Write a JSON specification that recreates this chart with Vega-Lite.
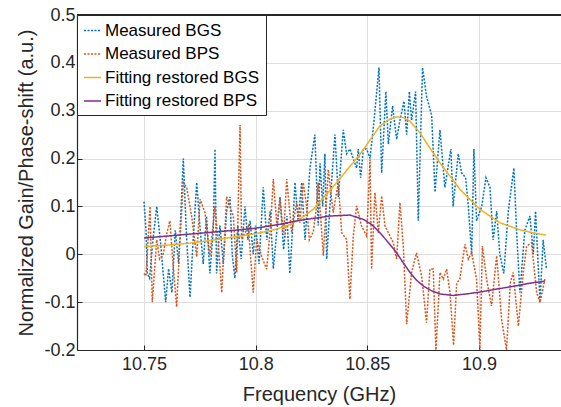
{
  "$schema": "https://vega.github.io/schema/vega-lite/v6.json",
  "width": 484,
  "height": 335,
  "autosize": {"type": "none"},
  "padding": {"left": 77, "top": 15, "right": 0, "bottom": 57},
  "background": "white",
  "config": {"view": {"stroke": null}, "font": "Liberation Sans"},
  "data": {"values": [
    {"s":"Measured BGS","f":10.7500,"v":0.11},{"s":"Measured BGS","f":10.7509,"v":0.05},{"s":"Measured BGS","f":10.7515,"v":-0.04},{"s":"Measured BGS","f":10.7525,"v":-0.05},{"s":"Measured BGS","f":10.7540,"v":0.03},{"s":"Measured BGS","f":10.7557,"v":0.10},{"s":"Measured BGS","f":10.7575,"v":0.02},{"s":"Measured BGS","f":10.7597,"v":-0.10},{"s":"Measured BGS","f":10.7610,"v":-0.03},{"s":"Measured BGS","f":10.7625,"v":-0.08},{"s":"Measured BGS","f":10.7640,"v":0.05},{"s":"Measured BGS","f":10.7655,"v":-0.02},{"s":"Measured BGS","f":10.7676,"v":0.20},{"s":"Measured BGS","f":10.7690,"v":0.04},{"s":"Measured BGS","f":10.7706,"v":-0.09},{"s":"Measured BGS","f":10.7720,"v":0.03},{"s":"Measured BGS","f":10.7736,"v":0.15},{"s":"Measured BGS","f":10.7750,"v":0.06},{"s":"Measured BGS","f":10.7765,"v":-0.02},{"s":"Measured BGS","f":10.7780,"v":0.08},{"s":"Measured BGS","f":10.7795,"v":-0.04},{"s":"Measured BGS","f":10.7810,"v":0.05},{"s":"Measured BGS","f":10.7818,"v":0.22},{"s":"Measured BGS","f":10.7825,"v":-0.04},{"s":"Measured BGS","f":10.7840,"v":0.06},{"s":"Measured BGS","f":10.7855,"v":-0.02},{"s":"Measured BGS","f":10.7870,"v":0.09},{"s":"Measured BGS","f":10.7885,"v":0.12},{"s":"Measured BGS","f":10.7895,"v":0.00},{"s":"Measured BGS","f":10.7907,"v":-0.05},{"s":"Measured BGS","f":10.7920,"v":0.06},{"s":"Measured BGS","f":10.7935,"v":-0.01},{"s":"Measured BGS","f":10.7952,"v":0.10},{"s":"Measured BGS","f":10.7965,"v":0.03},{"s":"Measured BGS","f":10.7975,"v":0.07},{"s":"Measured BGS","f":10.7989,"v":0.00},{"s":"Measured BGS","f":10.8000,"v":0.06},{"s":"Measured BGS","f":10.8015,"v":-0.02},{"s":"Measured BGS","f":10.8034,"v":0.14},{"s":"Measured BGS","f":10.8050,"v":0.03},{"s":"Measured BGS","f":10.8065,"v":0.09},{"s":"Measured BGS","f":10.8079,"v":-0.03},{"s":"Measured BGS","f":10.8095,"v":0.05},{"s":"Measured BGS","f":10.8109,"v":0.12},{"s":"Measured BGS","f":10.8125,"v":0.01},{"s":"Measured BGS","f":10.8140,"v":0.08},{"s":"Measured BGS","f":10.8153,"v":-0.04},{"s":"Measured BGS","f":10.8165,"v":0.05},{"s":"Measured BGS","f":10.8176,"v":0.15},{"s":"Measured BGS","f":10.8190,"v":0.07},{"s":"Measured BGS","f":10.8206,"v":0.15},{"s":"Measured BGS","f":10.8221,"v":0.03},{"s":"Measured BGS","f":10.8243,"v":0.18},{"s":"Measured BGS","f":10.8265,"v":0.25},{"s":"Measured BGS","f":10.8280,"v":0.06},{"s":"Measured BGS","f":10.8288,"v":0.19},{"s":"Measured BGS","f":10.8300,"v":0.10},{"s":"Measured BGS","f":10.8310,"v":0.21},{"s":"Measured BGS","f":10.8318,"v":-0.01},{"s":"Measured BGS","f":10.8335,"v":0.12},{"s":"Measured BGS","f":10.8355,"v":0.25},{"s":"Measured BGS","f":10.8370,"v":0.12},{"s":"Measured BGS","f":10.8392,"v":0.26},{"s":"Measured BGS","f":10.8407,"v":0.21},{"s":"Measured BGS","f":10.8422,"v":0.22},{"s":"Measured BGS","f":10.8437,"v":0.20},{"s":"Measured BGS","f":10.8452,"v":0.18},{"s":"Measured BGS","f":10.8459,"v":0.22},{"s":"Measured BGS","f":10.8470,"v":0.16},{"s":"Measured BGS","f":10.8482,"v":0.22},{"s":"Measured BGS","f":10.8497,"v":0.22},{"s":"Measured BGS","f":10.8512,"v":0.20},{"s":"Measured BGS","f":10.8530,"v":0.28},{"s":"Measured BGS","f":10.8552,"v":0.39},{"s":"Measured BGS","f":10.8564,"v":0.17},{"s":"Measured BGS","f":10.8583,"v":0.34},{"s":"Measured BGS","f":10.8594,"v":0.23},{"s":"Measured BGS","f":10.8613,"v":0.31},{"s":"Measured BGS","f":10.8631,"v":0.24},{"s":"Measured BGS","f":10.8646,"v":0.28},{"s":"Measured BGS","f":10.8664,"v":0.32},{"s":"Measured BGS","f":10.8676,"v":0.25},{"s":"Measured BGS","f":10.8688,"v":0.34},{"s":"Measured BGS","f":10.8698,"v":0.28},{"s":"Measured BGS","f":10.8716,"v":0.34},{"s":"Measured BGS","f":10.8728,"v":0.07},{"s":"Measured BGS","f":10.8747,"v":0.39},{"s":"Measured BGS","f":10.8765,"v":0.33},{"s":"Measured BGS","f":10.8788,"v":0.29},{"s":"Measured BGS","f":10.8803,"v":0.13},{"s":"Measured BGS","f":10.8825,"v":0.26},{"s":"Measured BGS","f":10.8847,"v":0.14},{"s":"Measured BGS","f":10.8874,"v":0.22},{"s":"Measured BGS","f":10.8884,"v":0.10},{"s":"Measured BGS","f":10.8907,"v":0.21},{"s":"Measured BGS","f":10.8922,"v":0.17},{"s":"Measured BGS","f":10.8940,"v":0.16},{"s":"Measured BGS","f":10.8952,"v":0.10},{"s":"Measured BGS","f":10.8967,"v":0.00},{"s":"Measured BGS","f":10.8977,"v":0.22},{"s":"Measured BGS","f":10.8989,"v":0.07},{"s":"Measured BGS","f":10.9012,"v":0.10},{"s":"Measured BGS","f":10.9031,"v":0.16},{"s":"Measured BGS","f":10.9049,"v":0.14},{"s":"Measured BGS","f":10.9063,"v":0.03},{"s":"Measured BGS","f":10.9079,"v":0.09},{"s":"Measured BGS","f":10.9093,"v":0.00},{"s":"Measured BGS","f":10.9111,"v":-0.04},{"s":"Measured BGS","f":10.9131,"v":0.09},{"s":"Measured BGS","f":10.9156,"v":0.18},{"s":"Measured BGS","f":10.9168,"v":0.05},{"s":"Measured BGS","f":10.9183,"v":-0.08},{"s":"Measured BGS","f":10.9205,"v":0.05},{"s":"Measured BGS","f":10.9228,"v":0.08},{"s":"Measured BGS","f":10.9243,"v":0.00},{"s":"Measured BGS","f":10.9253,"v":0.09},{"s":"Measured BGS","f":10.9273,"v":-0.10},{"s":"Measured BGS","f":10.9287,"v":0.03},{"s":"Measured BGS","f":10.9302,"v":-0.03},
    {"s":"Measured BPS","f":10.7500,"v":-0.04},{"s":"Measured BPS","f":10.7509,"v":-0.045},{"s":"Measured BPS","f":10.7527,"v":0.10},{"s":"Measured BPS","f":10.7537,"v":-0.10},{"s":"Measured BPS","f":10.7557,"v":0.03},{"s":"Measured BPS","f":10.7570,"v":-0.01},{"s":"Measured BPS","f":10.7586,"v":0.00},{"s":"Measured BPS","f":10.7600,"v":0.04},{"s":"Measured BPS","f":10.7616,"v":0.07},{"s":"Measured BPS","f":10.7630,"v":-0.02},{"s":"Measured BPS","f":10.7646,"v":-0.11},{"s":"Measured BPS","f":10.7660,"v":0.02},{"s":"Measured BPS","f":10.7676,"v":0.15},{"s":"Measured BPS","f":10.7691,"v":0.14},{"s":"Measured BPS","f":10.7713,"v":0.08},{"s":"Measured BPS","f":10.7736,"v":-0.005},{"s":"Measured BPS","f":10.7751,"v":0.115},{"s":"Measured BPS","f":10.7773,"v":0.087},{"s":"Measured BPS","f":10.7795,"v":-0.003},{"s":"Measured BPS","f":10.7818,"v":0.10},{"s":"Measured BPS","f":10.7833,"v":0.02},{"s":"Measured BPS","f":10.7848,"v":-0.08},{"s":"Measured BPS","f":10.7870,"v":0.12},{"s":"Measured BPS","f":10.7900,"v":0.08},{"s":"Measured BPS","f":10.7915,"v":-0.038},{"s":"Measured BPS","f":10.7930,"v":0.27},{"s":"Measured BPS","f":10.7937,"v":0.031},{"s":"Measured BPS","f":10.7967,"v":0.059},{"s":"Measured BPS","f":10.7989,"v":-0.08},{"s":"Measured BPS","f":10.8004,"v":0.031},{"s":"Measured BPS","f":10.8027,"v":-0.005},{"s":"Measured BPS","f":10.8049,"v":-0.031},{"s":"Measured BPS","f":10.8065,"v":0.05},{"s":"Measured BPS","f":10.8079,"v":0.157},{"s":"Measured BPS","f":10.8095,"v":0.06},{"s":"Measured BPS","f":10.8109,"v":0.115},{"s":"Measured BPS","f":10.8125,"v":0.04},{"s":"Measured BPS","f":10.8139,"v":0.157},{"s":"Measured BPS","f":10.8161,"v":0.045},{"s":"Measured BPS","f":10.8183,"v":0.108},{"s":"Measured BPS","f":10.8198,"v":0.066},{"s":"Measured BPS","f":10.8213,"v":0.15},{"s":"Measured BPS","f":10.8228,"v":0.101},{"s":"Measured BPS","f":10.8240,"v":0.03},{"s":"Measured BPS","f":10.8258,"v":0.047},{"s":"Measured BPS","f":10.8270,"v":0.09},{"s":"Measured BPS","f":10.8280,"v":0.150},{"s":"Measured BPS","f":10.8303,"v":-0.003},{"s":"Measured BPS","f":10.8325,"v":0.177},{"s":"Measured BPS","f":10.8347,"v":0.087},{"s":"Measured BPS","f":10.8370,"v":0.150},{"s":"Measured BPS","f":10.8385,"v":0.045},{"s":"Measured BPS","f":10.8407,"v":0.031},{"s":"Measured BPS","f":10.8422,"v":-0.094},{"s":"Measured BPS","f":10.8437,"v":0.038},{"s":"Measured BPS","f":10.8452,"v":0.101},{"s":"Measured BPS","f":10.8474,"v":0.059},{"s":"Measured BPS","f":10.8497,"v":0.038},{"s":"Measured BPS","f":10.8512,"v":0.198},{"s":"Measured BPS","f":10.8519,"v":-0.031},{"s":"Measured BPS","f":10.8534,"v":0.129},{"s":"Measured BPS","f":10.8549,"v":0.045},{"s":"Measured BPS","f":10.8564,"v":0.122},{"s":"Measured BPS","f":10.8579,"v":0.059},{"s":"Measured BPS","f":10.8594,"v":0.045},{"s":"Measured BPS","f":10.8616,"v":0.024},{"s":"Measured BPS","f":10.8631,"v":-0.010},{"s":"Measured BPS","f":10.8646,"v":0.108},{"s":"Measured BPS","f":10.8661,"v":0.017},{"s":"Measured BPS","f":10.8676,"v":-0.146},{"s":"Measured BPS","f":10.8698,"v":-0.038},{"s":"Measured BPS","f":10.8720,"v":0.003},{"s":"Measured BPS","f":10.8743,"v":-0.045},{"s":"Measured BPS","f":10.8765,"v":-0.143},{"s":"Measured BPS","f":10.8780,"v":-0.031},{"s":"Measured BPS","f":10.8795,"v":-0.031},{"s":"Measured BPS","f":10.8807,"v":-0.20},{"s":"Measured BPS","f":10.8825,"v":-0.038},{"s":"Measured BPS","f":10.8840,"v":-0.052},{"s":"Measured BPS","f":10.8855,"v":-0.031},{"s":"Measured BPS","f":10.8870,"v":-0.080},{"s":"Measured BPS","f":10.8886,"v":-0.19},{"s":"Measured BPS","f":10.8900,"v":-0.06},{"s":"Measured BPS","f":10.8914,"v":-0.052},{"s":"Measured BPS","f":10.8937,"v":0.021},{"s":"Measured BPS","f":10.8952,"v":-0.010},{"s":"Measured BPS","f":10.8967,"v":0.003},{"s":"Measured BPS","f":10.8989,"v":-0.052},{"s":"Measured BPS","f":10.9004,"v":-0.20},{"s":"Measured BPS","f":10.9015,"v":0.017},{"s":"Measured BPS","f":10.9034,"v":-0.052},{"s":"Measured BPS","f":10.9056,"v":-0.108},{"s":"Measured BPS","f":10.9079,"v":-0.003},{"s":"Measured BPS","f":10.9101,"v":-0.136},{"s":"Measured BPS","f":10.9123,"v":-0.20},{"s":"Measured BPS","f":10.9140,"v":-0.06},{"s":"Measured BPS","f":10.9153,"v":-0.038},{"s":"Measured BPS","f":10.9176,"v":-0.150},{"s":"Measured BPS","f":10.9198,"v":-0.038},{"s":"Measured BPS","f":10.9213,"v":0.017},{"s":"Measured BPS","f":10.9235,"v":0.024},{"s":"Measured BPS","f":10.9258,"v":-0.080},{"s":"Measured BPS","f":10.9273,"v":-0.101},{"s":"Measured BPS","f":10.9295,"v":-0.052},
    {"s":"Fitting restored BGS","f":10.750,"v":0.016},{"s":"Fitting restored BGS","f":10.760,"v":0.019},{"s":"Fitting restored BGS","f":10.770,"v":0.023},{"s":"Fitting restored BGS","f":10.780,"v":0.029},{"s":"Fitting restored BGS","f":10.790,"v":0.036},{"s":"Fitting restored BGS","f":10.800,"v":0.043},{"s":"Fitting restored BGS","f":10.808,"v":0.051},{"s":"Fitting restored BGS","f":10.814,"v":0.059},{"s":"Fitting restored BGS","f":10.820,"v":0.074},{"s":"Fitting restored BGS","f":10.826,"v":0.095},{"s":"Fitting restored BGS","f":10.833,"v":0.132},{"s":"Fitting restored BGS","f":10.840,"v":0.171},{"s":"Fitting restored BGS","f":10.8467,"v":0.209},{"s":"Fitting restored BGS","f":10.8556,"v":0.268},{"s":"Fitting restored BGS","f":10.860,"v":0.282},{"s":"Fitting restored BGS","f":10.8631,"v":0.287},{"s":"Fitting restored BGS","f":10.866,"v":0.286},{"s":"Fitting restored BGS","f":10.8691,"v":0.278},{"s":"Fitting restored BGS","f":10.8735,"v":0.254},{"s":"Fitting restored BGS","f":10.878,"v":0.222},{"s":"Fitting restored BGS","f":10.8825,"v":0.191},{"s":"Fitting restored BGS","f":10.8914,"v":0.136},{"s":"Fitting restored BGS","f":10.9004,"v":0.094},{"s":"Fitting restored BGS","f":10.9093,"v":0.066},{"s":"Fitting restored BGS","f":10.9183,"v":0.051},{"s":"Fitting restored BGS","f":10.925,"v":0.044},{"s":"Fitting restored BGS","f":10.930,"v":0.040},
    {"s":"Fitting restored BPS","f":10.750,"v":0.034},{"s":"Fitting restored BPS","f":10.760,"v":0.038},{"s":"Fitting restored BPS","f":10.770,"v":0.042},{"s":"Fitting restored BPS","f":10.780,"v":0.046},{"s":"Fitting restored BPS","f":10.790,"v":0.050},{"s":"Fitting restored BPS","f":10.7992,"v":0.054},{"s":"Fitting restored BPS","f":10.810,"v":0.062},{"s":"Fitting restored BPS","f":10.8198,"v":0.071},{"s":"Fitting restored BPS","f":10.8333,"v":0.080},{"s":"Fitting restored BPS","f":10.8422,"v":0.082},{"s":"Fitting restored BPS","f":10.8482,"v":0.073},{"s":"Fitting restored BPS","f":10.852,"v":0.062},{"s":"Fitting restored BPS","f":10.8556,"v":0.045},{"s":"Fitting restored BPS","f":10.8595,"v":0.024},{"s":"Fitting restored BPS","f":10.8631,"v":0.003},{"s":"Fitting restored BPS","f":10.8661,"v":-0.018},{"s":"Fitting restored BPS","f":10.8691,"v":-0.038},{"s":"Fitting restored BPS","f":10.872,"v":-0.054},{"s":"Fitting restored BPS","f":10.875,"v":-0.066},{"s":"Fitting restored BPS","f":10.8787,"v":-0.076},{"s":"Fitting restored BPS","f":10.8825,"v":-0.083},{"s":"Fitting restored BPS","f":10.8884,"v":-0.086},{"s":"Fitting restored BPS","f":10.894,"v":-0.083},{"s":"Fitting restored BPS","f":10.9004,"v":-0.079},{"s":"Fitting restored BPS","f":10.9075,"v":-0.073},{"s":"Fitting restored BPS","f":10.9153,"v":-0.067},{"s":"Fitting restored BPS","f":10.922,"v":-0.061},{"s":"Fitting restored BPS","f":10.9295,"v":-0.056}
  ]},
  "layer": [
    {
      "mark": {"type": "line", "strokeWidth": 1.5, "clip": true},
      "encoding": {
        "x": {"field": "f", "type": "quantitative",
          "scale": {"domain": [10.72, 10.9367], "nice": false, "zero": false},
          "axis": {"orient": "bottom", "values": [10.75, 10.8, 10.85, 10.9],
            "labelExpr": "toString(round(datum.value*100)/100)",
            "title": "Frequency (GHz)", "grid": true, "gridColor": "#dedede", "gridWidth": 1,
            "domainColor": "#262626", "domainWidth": 1.2, "tickColor": "#262626", "tickSize": -5,
            "labelFontSize": 18, "labelColor": "#262626", "labelPadding": 10, "labelFont": "Liberation Sans",
            "titleFontSize": 20, "titleFontWeight": "normal", "titleColor": "#262626", "titleFont": "Liberation Sans",
            "titleBaseline": "alphabetic", "titleY": 50}},
        "y": {"field": "v", "type": "quantitative",
          "scale": {"domain": [-0.2, 0.5], "nice": false, "zero": false},
          "axis": {"values": [-0.2, -0.1, 0, 0.1, 0.2, 0.3, 0.4, 0.5],
            "labelExpr": "toString(round(datum.value*10)/10)",
            "title": "Normalized Gain/Phase-shift (a.u.)", "grid": true, "gridColor": "#dedede", "gridWidth": 1,
            "domainColor": "#262626", "domainWidth": 1.2, "tickColor": "#262626", "tickSize": -5,
            "labelFontSize": 18, "labelColor": "#262626", "labelPadding": 7, "labelFont": "Liberation Sans",
            "titleFontSize": 20, "titleFontWeight": "normal", "titleColor": "#262626", "titleFont": "Liberation Sans",
            "titleBaseline": "alphabetic", "titleX": -45, "titleY": 167.5}},
        "color": {"field": "s", "type": "nominal",
          "scale": {"domain": ["Measured BGS", "Measured BPS", "Fitting restored BGS", "Fitting restored BPS"],
                    "range": ["#0072BD", "#D95319", "#EDB120", "#7E2F8E"]},
          "legend": {"orient": "none", "legendX": 0, "legendY": 0, "title": null,
            "strokeColor": "#262626", "fillColor": "white", "padding": 6,
            "labelFontSize": 17, "labelColor": "#000000", "labelFont": "Liberation Sans", "labelOffset": 3,
            "symbolType": "stroke", "symbolSize": 289, "symbolStrokeWidth": 1.5, "rowPadding": 5.5, "labelLimit": 300}},
        "strokeDash": {"field": "s", "type": "nominal",
          "scale": {"domain": ["Measured BGS", "Measured BPS", "Fitting restored BGS", "Fitting restored BPS"],
                    "range": [[2, 1.5], [2, 1.5], [1, 0], [1, 0]]},
          "legend": {"orient": "none", "legendX": 0, "legendY": 0, "title": null,
            "strokeColor": "#262626", "fillColor": "white", "padding": 6,
            "labelFontSize": 17, "labelColor": "#000000", "labelFont": "Liberation Sans", "labelOffset": 3,
            "symbolType": "stroke", "symbolSize": 289, "symbolStrokeWidth": 1.5, "rowPadding": 5.5, "labelLimit": 300}}
      }
    },
    {
      "mark": {"type": "rule", "color": "#262626", "strokeWidth": 1.2},
      "encoding": {"y": {"datum": 0.5}}
    }
  ]
}
